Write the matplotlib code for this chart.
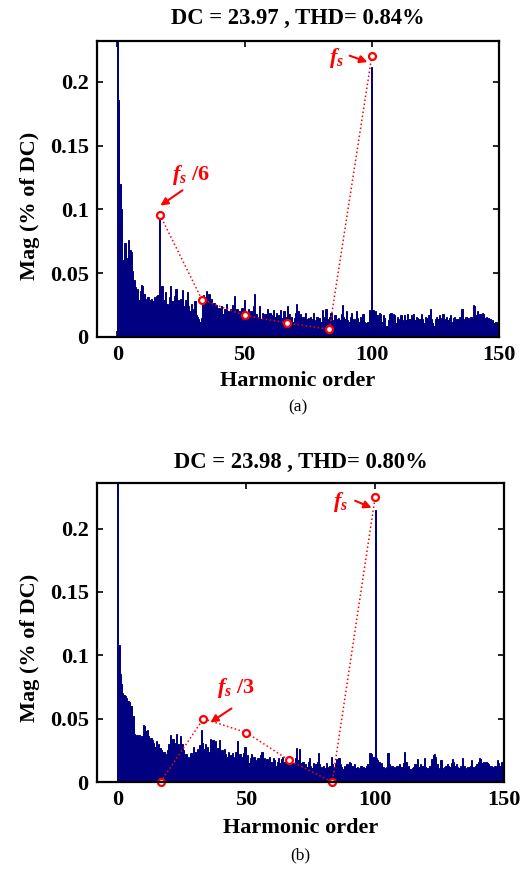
import numpy as np
import matplotlib
matplotlib.use("Agg")
import matplotlib.pyplot as plt

plt.rcParams['font.family'] = ['Liberation Serif', 'DejaVu Serif']
plt.rcParams['mathtext.fontset'] = 'custom'
plt.rcParams['mathtext.it'] = 'Liberation Serif:italic:bold'
plt.rcParams['mathtext.rm'] = 'Liberation Serif:bold'
plt.rcParams['mathtext.bf'] = 'Liberation Serif:bold'

# ---------------- data ----------------
harm_step = 0.5
# spectrum (a): magnitude (% of DC) every 0.5 harmonic from 0 to 150
mag_a = [
    0.5, 0.186, 0.12, 0.10, 0.052, 0.06, 0.074, 0.05, 0.062, 0.076,   # 0-4.5
    0.068, 0.067, 0.052, 0.045, 0.039, 0.03, 0.038, 0.029, 0.036, 0.041,   # 5-9.5
    0.04, 0.034, 0.03, 0.027, 0.031, 0.025, 0.029, 0.03, 0.028, 0.031,   # 10-14.5
    0.03, 0.032, 0.033, 0.099, 0.032, 0.04, 0.029, 0.023, 0.035, 0.026,   # 15-19.5
    0.024, 0.031, 0.04, 0.028, 0.024, 0.032, 0.038, 0.026, 0.029, 0.022,   # 20-24.5
    0.03, 0.037, 0.024, 0.022, 0.029, 0.035, 0.024, 0.02, 0.026, 0.018,   # 25-29.5
    0.022, 0.028, 0.017, 0.016, 0.014, 0.012, 0.015, 0.03, 0.033, 0.031,   # 30-34.5
    0.036, 0.03, 0.034, 0.028, 0.03, 0.024, 0.027, 0.021, 0.025, 0.02,   # 35-39.5
    0.023, 0.019, 0.024, 0.018, 0.022, 0.02, 0.026, 0.02, 0.018, 0.022,   # 40-44.5
    0.019, 0.025, 0.032, 0.02, 0.022, 0.017, 0.02, 0.016, 0.023, 0.018,   # 45-49.5
    0.029, 0.019, 0.015, 0.022, 0.017, 0.02, 0.014, 0.024, 0.034, 0.018,   # 50-54.5
    0.015, 0.016, 0.024, 0.014, 0.019, 0.013, 0.018, 0.016, 0.022, 0.015,   # 55-59.5
    0.019, 0.017, 0.014, 0.021, 0.016, 0.019, 0.013, 0.017, 0.021, 0.015,   # 60-64.5
    0.012, 0.02, 0.016, 0.014, 0.024, 0.018, 0.013, 0.016, 0.012, 0.015,   # 65-69.5
    0.019, 0.026, 0.02, 0.014, 0.018, 0.012, 0.016, 0.013, 0.019, 0.014,   # 70-74.5
    0.015, 0.012, 0.016, 0.014, 0.019, 0.013, 0.011, 0.016, 0.013, 0.015,   # 75-79.5
    0.012, 0.021, 0.016, 0.013, 0.022, 0.014, 0.01, 0.016, 0.019, 0.013,   # 80-84.5
    0.012, 0.017, 0.014, 0.011, 0.015, 0.013, 0.018, 0.025, 0.016, 0.014,   # 85-89.5
    0.02, 0.013, 0.012, 0.016, 0.019, 0.013, 0.014, 0.011, 0.02, 0.015,   # 90-94.5
    0.012, 0.016, 0.013, 0.018, 0.012, 0.011, 0.01, 0.012, 0.021, 0.018,   # 95-99.5
    0.212, 0.021, 0.016, 0.02, 0.017, 0.013, 0.019, 0.018, 0.012, 0.017,   # 100-104.5
    0.015, 0.008, 0.009, 0.013, 0.018, 0.019, 0.014, 0.018, 0.017, 0.011,   # 105-109.5
    0.016, 0.014, 0.012, 0.017, 0.013, 0.011, 0.017, 0.013, 0.018, 0.012,   # 110-114.5
    0.014, 0.017, 0.015, 0.018, 0.013, 0.016, 0.015, 0.012, 0.014, 0.018,   # 115-119.5
    0.014, 0.011, 0.016, 0.015, 0.013, 0.017, 0.022, 0.014, 0.011, 0.009,   # 120-124.5
    0.014, 0.016, 0.014, 0.017, 0.013, 0.015, 0.018, 0.014, 0.011, 0.016,   # 125-129.5
    0.013, 0.015, 0.017, 0.012, 0.015, 0.016, 0.011, 0.014, 0.013, 0.016,   # 130-134.5
    0.015, 0.022, 0.014, 0.011, 0.016, 0.013, 0.015, 0.012, 0.016, 0.014,   # 135-139.5
    0.025, 0.024, 0.017, 0.02, 0.015, 0.018, 0.013, 0.019, 0.018, 0.015,   # 140-144.5
    0.016, 0.013, 0.015, 0.014, 0.012, 0.013, 0.011, 0.012, 0.01, 0.012,   # 145-149.5
    0.034,                                                                 # 150
]

# spectrum (b)
mag_b = [
    0.5, 0.108, 0.085, 0.077, 0.07, 0.069, 0.068, 0.066, 0.064, 0.063,   # 0-4.5
    0.06, 0.06, 0.052, 0.038, 0.036, 0.037, 0.035, 0.037, 0.034, 0.036,   # 5-9.5
    0.045, 0.044, 0.04, 0.041, 0.036, 0.034, 0.035, 0.033, 0.031, 0.028,   # 10-14.5
    0.032, 0.026, 0.03, 0.027, 0.025, 0.022, 0.024, 0.02, 0.022, 0.025,   # 15-19.5
    0.03, 0.037, 0.028, 0.034, 0.026, 0.031, 0.038, 0.03, 0.026, 0.036,   # 20-24.5
    0.03, 0.025, 0.019, 0.022, 0.016, 0.02, 0.018, 0.023, 0.021, 0.028,   # 25-29.5
    0.024, 0.02, 0.026, 0.022, 0.029, 0.041, 0.031, 0.026, 0.03, 0.022,   # 30-34.5
    0.028, 0.024, 0.034, 0.021, 0.033, 0.026, 0.032, 0.02, 0.027, 0.033,   # 35-39.5
    0.021, 0.025, 0.018, 0.026, 0.022, 0.02, 0.024, 0.017, 0.021, 0.023,   # 40-44.5
    0.018, 0.02, 0.024, 0.032, 0.019, 0.022, 0.016, 0.02, 0.023, 0.028,   # 45-49.5
    0.018, 0.021, 0.015, 0.019, 0.022, 0.016, 0.02, 0.017, 0.014, 0.019,   # 50-54.5
    0.016, 0.021, 0.024, 0.016, 0.019, 0.013, 0.018, 0.015, 0.02, 0.016,   # 55-59.5
    0.014, 0.019, 0.017, 0.013, 0.016, 0.019, 0.015, 0.018, 0.02, 0.014,   # 60-64.5
    0.016, 0.012, 0.017, 0.014, 0.013, 0.016, 0.012, 0.015, 0.019, 0.027,   # 65-69.5
    0.017, 0.026, 0.015, 0.012, 0.016, 0.011, 0.014, 0.012, 0.016, 0.019,   # 70-74.5
    0.013, 0.011, 0.015, 0.012, 0.014, 0.016, 0.023, 0.014, 0.012, 0.01,   # 75-79.5
    0.013, 0.011, 0.015, 0.012, 0.01, 0.013, 0.02, 0.014, 0.012, 0.015,   # 80-84.5
    0.018, 0.016, 0.019, 0.014, 0.012, 0.01, 0.013, 0.011, 0.014, 0.012,   # 85-89.5
    0.016, 0.015, 0.013, 0.012, 0.014, 0.011, 0.012, 0.01, 0.011, 0.013,   # 90-94.5
    0.01, 0.012, 0.011, 0.013, 0.014, 0.012, 0.023, 0.022, 0.016, 0.02,   # 95-99.5
    0.215, 0.019, 0.017, 0.016, 0.013, 0.015, 0.012, 0.01, 0.011, 0.012,   # 100-104.5
    0.023, 0.014, 0.012, 0.013, 0.011, 0.012, 0.01, 0.013, 0.011, 0.014,   # 105-109.5
    0.012, 0.011, 0.015, 0.024, 0.016, 0.012, 0.013, 0.01, 0.009, 0.011,   # 110-114.5
    0.012, 0.014, 0.013, 0.018, 0.012, 0.014, 0.011, 0.013, 0.019, 0.012,   # 115-119.5
    0.01, 0.011, 0.013, 0.011, 0.018, 0.021, 0.022, 0.02, 0.014, 0.011,   # 120-124.5
    0.01, 0.017, 0.011, 0.009, 0.012, 0.013, 0.014, 0.013, 0.012, 0.015,   # 125-129.5
    0.018, 0.016, 0.013, 0.014, 0.012, 0.011, 0.013, 0.012, 0.019, 0.013,   # 130-134.5
    0.011, 0.01, 0.012, 0.011, 0.013, 0.017, 0.012, 0.011, 0.013, 0.014,   # 135-139.5
    0.016, 0.019, 0.018, 0.015, 0.016, 0.012, 0.016, 0.015, 0.014, 0.012,   # 140-144.5
    0.013, 0.011, 0.012, 0.013, 0.012, 0.017, 0.015, 0.013, 0.016, 0.012,   # 145-149.5
    0.013,                                                                 # 150
]

# highlighted sub-harmonic points (multiples of fs/6)
mark_orders = [16.67, 33.33, 50.0, 66.67, 83.33, 100.0]
mark_a = [0.096, 0.029, 0.017, 0.011, 0.006, 0.220]
mark_b = [0.0, 0.050, 0.039, 0.017, 0.0, 0.225]

titles = ["DC = 23.97 , THD= 0.84%", "DC = 23.98 , THD= 0.80%"]
panel_tags = ["(a)", "(b)"]
xticks = [0, 50, 100, 150]
yticks = [0, 0.05, 0.1, 0.15, 0.2]
ytick_labels = ["0", "0.05", "0.1", "0.15", "0.2"]

# ---------------- figure ----------------
W, H = 520, 873
fig = plt.figure(figsize=(W / 100, H / 100), dpi=100)

def fx(px):
    return px / W

def fy(py):
    return 1 - py / H

navy = '#000080'
red = '#FF0000'

panels = [
    dict(box=(97, 41, 499, 337), mag=mag_a, mk=mark_a, ylim=0.232, title=titles[0], tag=panel_tags[0],
         title_y=18, xlab_y=381, tag_y=407, ylab_y=206,
         fs_txt=(86.0, 0.219), fs_arr=((91.3, 0.2205), (98.3, 0.2155)),
         sub_txt=(29.0, 0.127), sub_lab=r'$f_s$ /6', sub_arr=((25.6, 0.115), (16.9, 0.103))),
    dict(box=(97, 483, 504, 782), mag=mag_b, mk=mark_b, ylim=0.236, title=titles[1], tag=panel_tags[1],
         title_y=462, xlab_y=828, tag_y=855, ylab_y=648,
         fs_txt=(86.4, 0.221), fs_arr=((92.2, 0.222), (98.6, 0.2164)),
         sub_txt=(46.1, 0.074), sub_lab=r'$f_s$ /3', sub_arr=((44.2, 0.058), (36.0, 0.047))),
]

for p in panels:
    x0, y0, x1, y1 = p['box']
    ax = fig.add_axes([fx(x0), fy(y1), fx(x1 - x0), (y1 - y0) / H])
    orders = np.arange(len(p['mag'])) * harm_step
    ax.bar(orders, p['mag'], width=harm_step, color=navy, edgecolor=navy, linewidth=0.7, zorder=2)
    ax.plot(mark_orders, p['mk'], linestyle=':', color=red, linewidth=1.1, marker='o',
            markersize=5, markerfacecolor='white', markeredgecolor=red, markeredgewidth=1.6,
            zorder=4, clip_on=False)
    ax.set_xlim(-8, 150)
    ax.set_ylim(0, p['ylim'])
    ax.set_xticks(xticks)
    ax.set_xticklabels([str(t) for t in xticks])
    ax.set_yticks(yticks)
    ax.set_yticklabels(ytick_labels)
    ax.tick_params(direction='in', length=4, width=1.2, top=True, right=True,
                   labelsize=16, pad=6)
    for lab in ax.get_xticklabels() + ax.get_yticklabels():
        lab.set_fontweight('bold')
    for s in ax.spines.values():
        s.set_linewidth(1.6)
        s.set_zorder(6)

    # annotations
    ax.text(p['fs_txt'][0], p['fs_txt'][1], r'$f_s$', color=red, fontsize=16,
            ha='center', va='center', zorder=5)
    ax.annotate('', xy=p['fs_arr'][1], xytext=p['fs_arr'][0],
                arrowprops=dict(arrowstyle='-|>', color=red, lw=1.5, mutation_scale=11,
                                shrinkA=0, shrinkB=0), zorder=5)
    ax.text(p['sub_txt'][0], p['sub_txt'][1], p['sub_lab'], color=red, fontsize=16,
            fontweight='bold', ha='center', va='center', zorder=5)
    ax.annotate('', xy=p['sub_arr'][1], xytext=p['sub_arr'][0],
                arrowprops=dict(arrowstyle='-|>', color=red, lw=1.5, mutation_scale=11,
                                shrinkA=0, shrinkB=0), zorder=5)

    cx = fx((x0 + x1) / 2)
    fig.text(cx, fy(p['title_y']), p['title'], ha='center', va='center',
             fontsize=16.3, fontweight='bold')
    fig.text(cx, fy(p['xlab_y']), 'Harmonic order', ha='center', va='center',
             fontsize=16, fontweight='bold')
    fig.text(cx, fy(p['tag_y']), p['tag'], ha='center', va='center', fontsize=12.5)
    fig.text(fx(30), fy(p['ylab_y']), 'Mag (% of DC)', ha='center', va='center',
             rotation=90, fontsize=16, fontweight='bold')

fig.savefig('out.png', dpi=100)
